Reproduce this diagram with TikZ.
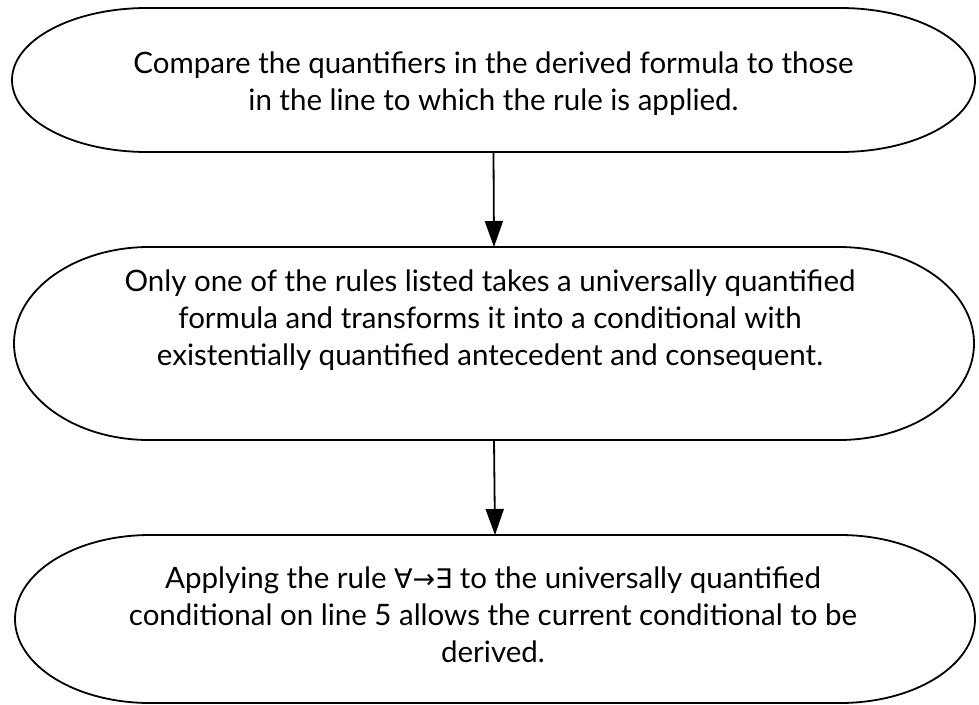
\documentclass[tikz,border=0pt]{standalone}
\usepackage{fontspec}
\setmainfont{Lato}
\newfontfamily\symfnt{DejaVu Sans}
\usetikzlibrary{arrows.meta,calc}
\begin{document}
\begin{tikzpicture}[x=1pt,y=-1pt,
  shapebox/.style={inner sep=0pt,outer sep=0pt},
  txt/.style={align=center,font=\fontsize{29.5}{37}\selectfont,inner sep=0pt},
  conn/.style={line width=1.8pt,-{Triangle[width=18pt,length=26pt]}},
  outline/.style={line width=1.8pt,draw=black,fill=white},
  shade/.style={fill=black,opacity=0.14,draw=none}
]
\useasboundingbox (0,0) rectangle (979,704);

\newcommand{\pillpath}[3]{% node, rx, ry
  ([xshift=#2]#1.north west) -- ([xshift=-#2]#1.north east)
  arc[start angle=90,end angle=-90,x radius=#2,y radius=#3]
  -- ([xshift=#2]#1.south west)
  arc[start angle=270,end angle=90,x radius=#2,y radius=#3] -- cycle}
\newcommand{\pill}[3]{%
  \foreach \k in {1,...,8}{%
    \fill[shade,shift={(0.5*\k,1.3*\k)}] \pillpath{#1}{#2}{#3};}
  \draw[outline] \pillpath{#1}{#2}{#3};}

\node[shapebox,minimum width=963pt,minimum height=144pt] (s1) at (493.5,80) {};
\node[shapebox,minimum width=960pt,minimum height=193pt] (s2) at (494,343.5) {};
\node[shapebox,minimum width=960pt,minimum height=168pt] (s3) at (495,619) {};

\pill{s1}{135pt}{72pt}
\pill{s2}{135pt}{96.5pt}
\pill{s3}{135pt}{84pt}

\node[txt] (t1) at ($(s1.center)+(0,4)$) {Compare the quantifiers in the derived formula to those\\in the line to which the rule is applied.};
\node[txt] (t2) at ($(s2.center)+(-4,-23)$) {Only one of the rules listed takes a universally quantified\\formula and transforms it into a conditional with\\existentially quantified antecedent and consequent.};
\node[txt] (t3) at ($(s3.center)+(-2,-4)$) {Applying the rule {\symfnt\fontsize{27}{37}\selectfont ∀→∃} to the universally quantified\\conditional on line 5 allows the current conditional to be\\derived.};

\draw[conn] (s1.south) -- (s2.north);
\draw[conn] (s2.south) -- (s3.north);
\end{tikzpicture}
\end{document}
